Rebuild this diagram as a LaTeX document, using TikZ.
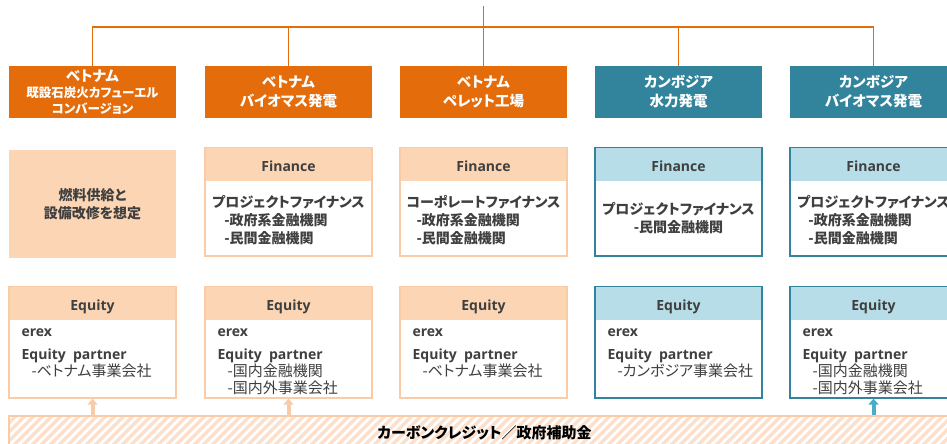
\documentclass[tikz,border=0pt]{standalone}
\usepackage{fontspec}
\setmainfont{Noto Sans CJK JP}[RawFeature=+palt]
\newfontfamily\lat{Open Sans}
\usetikzlibrary{positioning,arrows.meta}
\definecolor{orfonce}{HTML}{E46C0A}
\definecolor{bleu}{HTML}{31849B}
\definecolor{peche}{HTML}{FCD5B4}
\definecolor{pechetrait}{HTML}{F9CBA6}
\definecolor{bleuclair}{HTML}{B7DEE8}
\definecolor{bleufleche}{HTML}{4BACC6}
\definecolor{gristxt}{HTML}{3F3F3F}
\definecolor{raie}{HTML}{FCE0CB}

\begin{document}
\begin{tikzpicture}[x=1pt,y=-1pt,
    ligne/.style={orfonce,line width=1.5pt},
    titre/.style={fill=#1,text=white,font=\bfseries\fontsize{14.5}{19}\selectfont,minimum width=167pt,minimum height=51pt,inner sep=0pt,align=center},
    cadre/.style={draw=#1,fill=white,line width=1.2pt,minimum width=167pt,inner sep=0pt},
    bande/.style={fill=#1,minimum width=165.8pt,minimum height=32.4pt,inner sep=0pt,text height=15pt,text depth=0pt,text=gristxt,font=\lat\bfseries\fontsize{14}{16}\selectfont},
    corps/.style={text=gristxt,font=\bfseries\fontsize{14}{18}\selectfont,inner sep=0pt},
    eqtxt/.style={text=gristxt,font=\fontsize{15}{17}\selectfont,inner sep=0pt,align=left},
    fleche/.style={line width=4pt,-{Triangle[width=10pt,length=6pt]},#1}
]
    \useasboundingbox (0,0) rectangle (947,444);
    \clip (0,0) rectangle (947,444);

    % Bandeaux de titre
    \node[titre=orfonce,font=\bfseries\fontsize{12.5}{16}\selectfont] (hd1) at (92.5,92) {{\fontsize{14.5}{16}\selectfont ベトナム}\\既設石炭火カフューエル\\コンバージョン};
    \node[titre=orfonce] (hd2) at (288.5,92) {ベトナム\\バイオマス発電};
    \node[titre=orfonce] (hd3) at (483.5,92) {ベトナム\\ペレット工場};
    \node[titre=bleu] (hd4) at (678.5,92) {カンボジア\\水力発電};
    \node[titre=bleu] (hd5) at (873.5,92) {カンボジア\\バイオマス発電};

    % Arborescence
    \coordinate (haut) at (483.5,6);
    \coordinate (bus) at (483.5,27);
    \draw[ligne] (haut) -- (bus);
    \foreach \i in {1,...,5} \draw[ligne] (hd\i.north) |- (bus);

    % Finance
    \node[fill=peche,minimum width=167pt,minimum height=108pt,corps,align=center] (fin1) at (92.5,204) {燃料供給と\\設備改修を想定};

    \node[cadre=pechetrait,minimum height=108pt] (fin2) at (288.5,202) {};
    \node[bande=peche,below=0.6pt of fin2.north] (fhd2) {Finance};
    \node[corps,align=left,below=2pt of fhd2,minimum height=74pt] (ft2) {プロジェクトファイナンス\\\hspace*{12pt}-政府系金融機関\\\hspace*{12pt}-民間金融機関};

    \node[cadre=pechetrait,minimum height=108pt] (fin3) at (483.5,202) {};
    \node[bande=peche,below=0.6pt of fin3.north] (fhd3) {Finance};
    \node[corps,align=left,below=2pt of fhd3,minimum height=74pt] (ft3) {コーポレートファイナンス\\\hspace*{10pt}-政府系金融機関\\\hspace*{10pt}-民間金融機関};

    \node[cadre=bleu,minimum height=108pt] (fin4) at (678.5,202) {};
    \node[bande=bleuclair,below=0.6pt of fin4.north] (fhd4) {Finance};
    \node[corps,align=center,below=0pt of fhd4,minimum height=74pt] (ft4) {プロジェクトファイナンス\\-民間金融機関};

    \node[cadre=bleu,minimum height=108pt] (fin5) at (873.5,202) {};
    \node[bande=bleuclair,below=0.6pt of fin5.north] (fhd5) {Finance};
    \node[corps,align=left,below=2pt of fhd5,minimum height=74pt] (ft5) {プロジェクトファイナンス\\\hspace*{11pt}-政府系金融機関\\\hspace*{11pt}-民間金融機関};

    % Equity
    \node[cadre=pechetrait,minimum height=111pt] (eq1) at (92.5,342.5) {};
    \node[bande=peche,below=0.6pt of eq1.north] (ehd1) {Equity};
    \node[eqtxt,below right=9pt and 12pt of ehd1.south west] (et1) {{\lat\bfseries\fontsize{14}{17}\selectfont erex}\\[6pt]{\lat\bfseries\fontsize{14}{17}\selectfont Equity\ \ partner}\\\hspace*{10pt}-ベトナム事業会社};

    \node[cadre=pechetrait,minimum height=111pt] (eq2) at (288.5,342.5) {};
    \node[bande=peche,below=0.6pt of eq2.north] (ehd2) {Equity};
    \node[eqtxt,below right=9pt and 12pt of ehd2.south west] (et2) {{\lat\bfseries\fontsize{14}{17}\selectfont erex}\\[6pt]{\lat\bfseries\fontsize{14}{17}\selectfont Equity\ \ partner}\\\hspace*{10pt}-国内金融機関\\\hspace*{10pt}-国内外事業会社};

    \node[cadre=pechetrait,minimum height=111pt] (eq3) at (483.5,342.5) {};
    \node[bande=peche,below=0.6pt of eq3.north] (ehd3) {Equity};
    \node[eqtxt,below right=9pt and 12pt of ehd3.south west] (et3) {{\lat\bfseries\fontsize{14}{17}\selectfont erex}\\[6pt]{\lat\bfseries\fontsize{14}{17}\selectfont Equity\ \ partner}\\\hspace*{10pt}-ベトナム事業会社};

    \node[cadre=bleu,minimum height=111pt] (eq4) at (678.5,342.5) {};
    \node[bande=bleuclair,below=0.6pt of eq4.north] (ehd4) {Equity};
    \node[eqtxt,below right=9pt and 12pt of ehd4.south west] (et4) {{\lat\bfseries\fontsize{14}{17}\selectfont erex}\\[6pt]{\lat\bfseries\fontsize{14}{17}\selectfont Equity\ \ partner}\\\hspace*{10pt}-カンボジア事業会社};

    \node[cadre=bleu,minimum height=111pt] (eq5) at (873.5,342.5) {};
    \node[bande=bleuclair,below=0.6pt of eq5.north] (ehd5) {Equity};
    \node[eqtxt,below right=9pt and 12pt of ehd5.south west] (et5) {{\lat\bfseries\fontsize{14}{17}\selectfont erex}\\[6pt]{\lat\bfseries\fontsize{14}{17}\selectfont Equity\ \ partner}\\\hspace*{10pt}-国内金融機関\\\hspace*{10pt}-国内外事業会社};

    % Bande du bas, hachurée
    \node[draw=pechetrait,line width=1.5pt,fill=white,minimum width=951pt,minimum height=34pt,inner sep=0pt,
          font=\bfseries\fontsize{15}{16}\selectfont,
          path picture={\foreach \k in {-6,...,110}{\draw[raie,line width=3.5pt] ([xshift=\k*9pt]path picture bounding box.south west) -- ++(45pt,45pt);}}]
          (credit) at (484.5,433) {カーボンクレジット／政府補助金};

    % Flèches
    \draw[fleche=pechetrait] (credit.north -| eq1.south) -- (eq1.south);
    \draw[fleche=pechetrait] (credit.north -| eq2.south) -- (eq2.south);
    \draw[fleche=bleufleche] (credit.north -| eq5.south) -- (eq5.south);
\end{tikzpicture}
\end{document}
